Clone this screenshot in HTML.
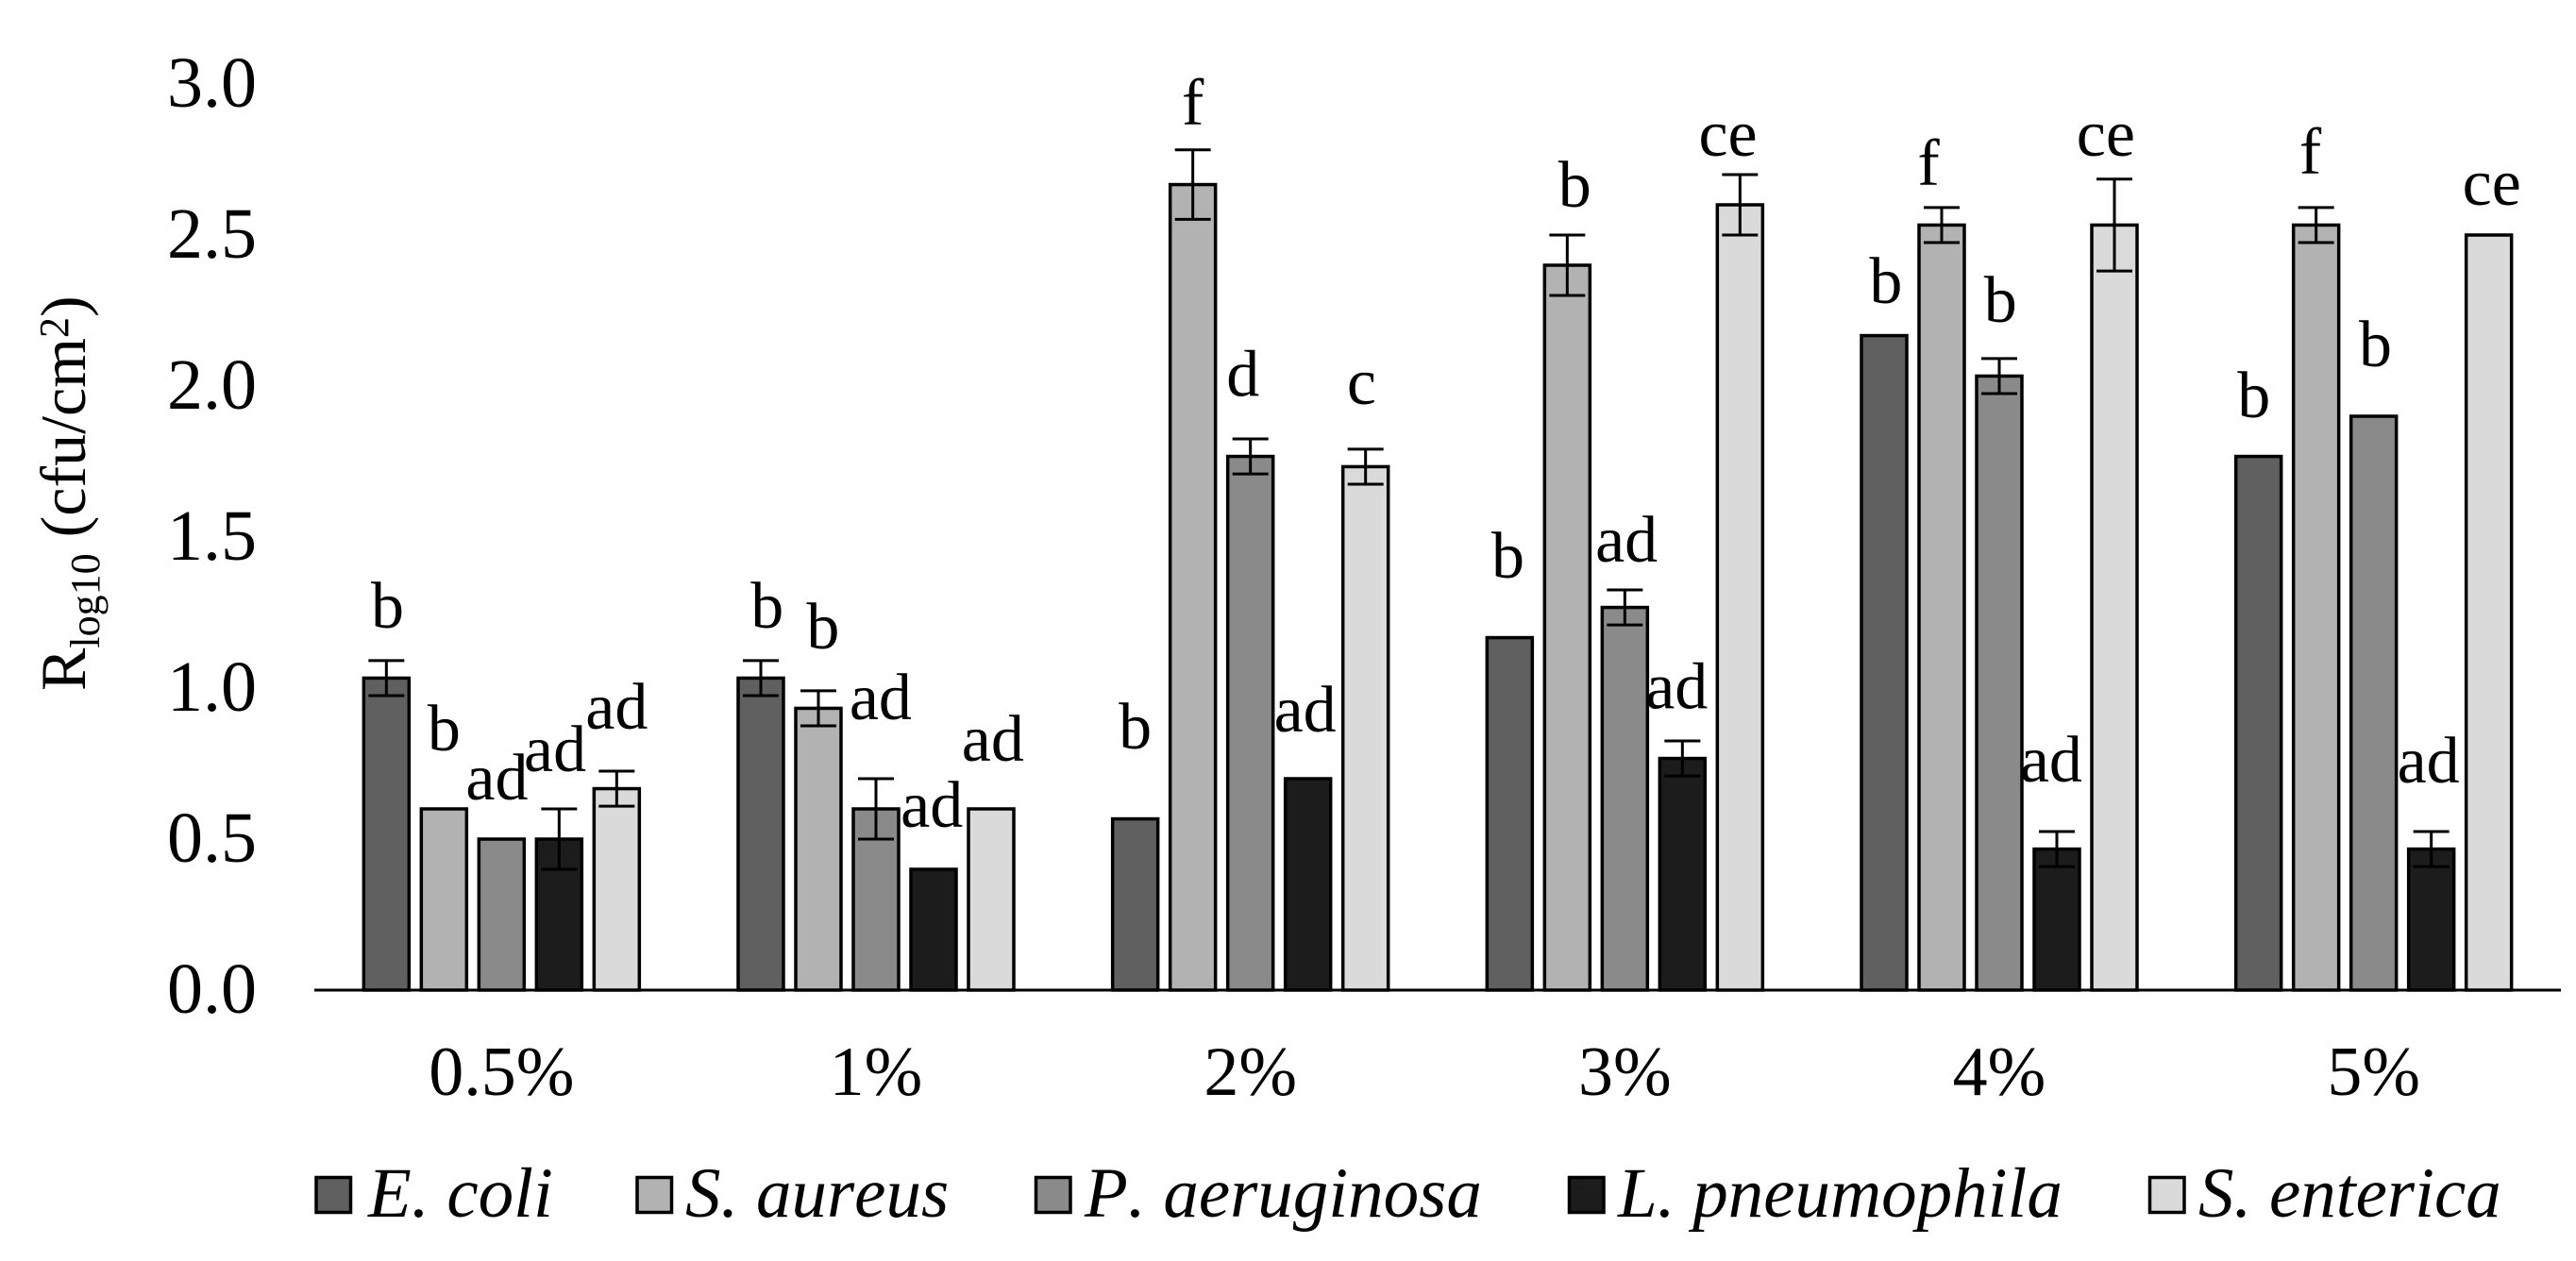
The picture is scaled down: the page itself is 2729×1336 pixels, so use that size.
<!DOCTYPE html>
<html lang="en">
<head>
<meta charset="utf-8">
<title>Rlog10 reduction by concentration</title>
<style>
html,body{margin:0;padding:0;background:#fff;}
body{width:2729px;height:1336px;overflow:hidden;}
svg{display:block;}
text{font-family:"Liberation Serif","Times New Roman",serif;fill:#000;font-kerning:none;}
</style>
</head>
<body>
<svg id="chart" xmlns="http://www.w3.org/2000/svg" width="2729" height="1336" viewBox="0 0 2729 1336">
  <rect x="0" y="0" width="2729" height="1336" fill="#ffffff"/>
  <text transform="translate(90,732) rotate(-90)" font-size="68">R<tspan dy="15" font-size="44">log10</tspan><tspan dy="-15"> (cfu/cm</tspan><tspan dy="-18" font-size="44">2</tspan><tspan dy="18">)</tspan></text>
</svg>
<script>
// Chart data
const categories = ['0.5%', '1%', '2%', '3%', '4%', '5%'];
const seriesNames = ['E. coli', 'S. aureus', 'P. aeruginosa', 'L. pneumophila', 'S. enterica'];
const seriesColors = ['#606060', '#b2b2b2', '#8a8a8a', '#1c1c1c', '#dadada'];
const tickLabels = ['0.0', '0.5', '1.0', '1.5', '2.0', '2.5', '3.0'];

const eColiValues = [1.033, 1.033, 0.567, 1.167, 2.167, 1.767];
const sAureusValues = [0.6, 0.933, 2.667, 2.4, 2.533, 2.533];
const pAeruginosaValues = [0.5, 0.6, 1.767, 1.267, 2.033, 1.9];
const lPneumophilaValues = [0.5, 0.4, 0.7, 0.767, 0.467, 0.467];
const sEntericaValues = [0.667, 0.6, 1.733, 2.6, 2.533, 2.5];

const eColiErrors = [0.058, 0.058, 0, 0, 0, 0];
const sAureusErrors = [0, 0.058, 0.115, 0.1, 0.058, 0.058];
const pAeruginosaErrors = [0, 0.1, 0.058, 0.058, 0.058, 0];
const lPneumophilaErrors = [0.1, 0, 0, 0.058, 0.058, 0.058];
const sEntericaErrors = [0.058, 0, 0.058, 0.1, 0.152, 0];

const eColiLetters = ['b', 'b', 'b', 'b', 'b', 'b'];
const sAureusLetters = ['b', 'b', 'f', 'b', 'f', 'f'];
const pAeruginosaLetters = ['ad', 'ad', 'd', 'ad', 'b', 'b'];
const lPneumophilaLetters = ['ad', 'ad', 'ad', 'ad', 'ad', 'ad'];
const sEntericaLetters = ['ad', 'ad', 'c', 'ce', 'ce', 'ce'];

// Height of each significance letter above its bar or whisker, in axis units
const eColiLetterGaps = [0.109, 0.109, 0.233, 0.199, 0.108, 0.13];
const sAureusLetterGaps = [0.194, 0.14, 0.084, 0.094, 0.075, 0.112];
const pAeruginosaLetterGaps = [0.131, 0.197, 0.142, 0.094, 0.122, 0.166];
const lPneumophilaLetterGaps = [0.125, 0.141, 0.156, 0.108, 0.166, 0.163];
const sEntericaLetterGaps = [0.141, 0.159, 0.15, 0.063, 0.078, 0.1];

const allValues = [eColiValues, sAureusValues, pAeruginosaValues, lPneumophilaValues, sEntericaValues];
const allErrors = [eColiErrors, sAureusErrors, pAeruginosaErrors, lPneumophilaErrors, sEntericaErrors];
const allLetters = [eColiLetters, sAureusLetters, pAeruginosaLetters, lPneumophilaLetters, sEntericaLetters];
const allLetterGaps = [eColiLetterGaps, sAureusLetterGaps, pAeruginosaLetterGaps, lPneumophilaLetterGaps, sEntericaLetterGaps];

// Hand-placed letter shift, in bar pitches
const eColiLetterShifts = [0.02, 0.11, 0, -0.03, 0.03, -0.08];
const sAureusLetterShifts = [0, 0.08, 0, 0.13, -0.23, -0.1];
const pAeruginosaLetterShifts = [-0.08, 0.08, -0.13, 0.03, 0.02, 0.03];
const lPneumophilaLetterShifts = [-0.07, -0.03, -0.05, -0.1, -0.1, -0.05];
const sEntericaLetterShifts = [0, 0.03, -0.07, -0.21, -0.15, 0.05];
const allLetterShifts = [eColiLetterShifts, sAureusLetterShifts, pAeruginosaLetterShifts, lPneumophilaLetterShifts, sEntericaLetterShifts];

// Layout
const plotLeft = 333;
const plotRight = 2713;
const baselineY = 1049;
const pxPerUnit = 320;
const barPitch = 61;
const barWidth = 48;
const barStroke = 3.5;
const capHalf = 19;
const NS = 'http://www.w3.org/2000/svg';
const svg = document.getElementById('chart');

function yScale(v) { return baselineY - v * pxPerUnit; }
function groupCenter(i) { return plotLeft + (plotRight - plotLeft) / categories.length * (i + 0.5); }
function barCenter(i, s) { return groupCenter(i) + (s - (seriesNames.length - 1) / 2) * barPitch; }
function make(tag, attrs, parent) {
  const el = document.createElementNS(NS, tag);
  for (const k in attrs) el.setAttribute(k, attrs[k]);
  (parent || svg).appendChild(el);
  return el;
}

// y-axis tick labels
tickLabels.forEach(function (t) {
  const el = make('text', { x: 272, y: yScale(parseFloat(t)) + 24, 'font-size': 76, 'text-anchor': 'end' });
  
  
  el.textContent = t;
});

// x-axis category labels
categories.forEach(function (c, i) {
  const el = make('text', { x: groupCenter(i), y: 1160, 'font-size': 74, 'text-anchor': 'middle' });
  
  
  el.textContent = c;
});

// bars, error bars, significance letters
allValues.forEach(function (vals, s) {
  vals.forEach(function (v, i) {
    const cx = barCenter(i, s);
    const err = allErrors[s][i];
    const bar = make('rect', {
      x: cx - barWidth / 2,
      y: yScale(v),
      width: barWidth,
      height: baselineY - yScale(v),
      fill: seriesColors[s],
      stroke: '#000',
      'stroke-width': barStroke
    });
    
    
    if (err > 0) {
      const g = make('g', { stroke: '#000', 'stroke-width': 3, fill: 'none' });
      
      
      make('line', { x1: cx, x2: cx, y1: yScale(v + err), y2: yScale(v - err) }, g);
      make('line', { x1: cx - capHalf, x2: cx + capHalf, y1: yScale(v + err), y2: yScale(v + err) }, g);
      make('line', { x1: cx - capHalf, x2: cx + capHalf, y1: yScale(v - err), y2: yScale(v - err) }, g);
    }
    const label = make('text', {
      x: cx + allLetterShifts[s][i] * barPitch,
      y: yScale(v + err + allLetterGaps[s][i]),
      'font-size': 70,
      'text-anchor': 'middle'
    });
    
    
    label.textContent = allLetters[s][i];
  });
});

// x axis line
const axisLine = make('line', { x1: plotLeft, x2: plotRight, y1: baselineY, y2: baselineY, stroke: '#000', 'stroke-width': 3 });



// legend
const legendLefts = [335, 675, 1097.5, 1662.5, 2277.5];
const legendTextLefts = [390, 726, 1149, 1714, 2329];
seriesNames.forEach(function (name, s) {
  const g = make('g', {});
  
  
  const sw = make('rect', { x: legendLefts[s], y: 1247.5, width: 36.5, height: 37, fill: seriesColors[s], stroke: '#000', 'stroke-width': 3.5 }, g);
  
  
  const tx = make('text', { x: legendTextLefts[s], y: 1289, 'font-size': 75, 'font-style': 'italic' }, g);
  
  
  tx.textContent = name;
});
</script>
</body>
</html>
